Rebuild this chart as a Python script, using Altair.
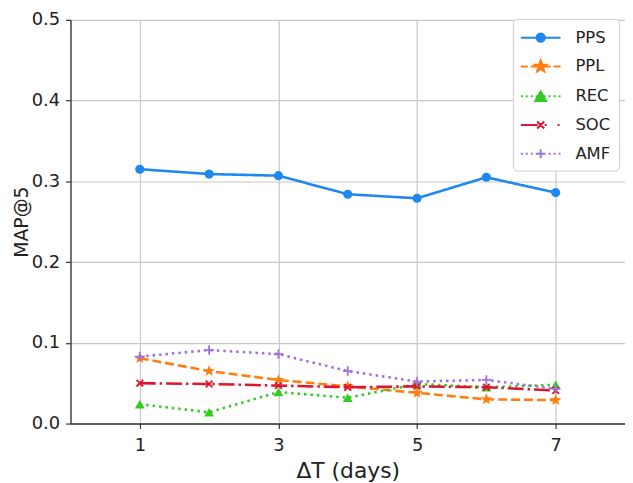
import math
import altair as alt
import pandas as pd

# ---------------- data ----------------
days = [1, 2, 3, 4, 5, 6, 7]
series_names = ["PPS", "PPL", "REC", "SOC", "AMF"]
pps = [0.315, 0.309, 0.307, 0.284, 0.279, 0.305, 0.286]
ppl = [0.081, 0.065, 0.054, 0.046, 0.038, 0.030, 0.029]
rec = [0.024, 0.014, 0.039, 0.032, 0.049, 0.045, 0.048]
soc = [0.050, 0.049, 0.047, 0.045, 0.046, 0.045, 0.041]
amf = [0.083, 0.091, 0.086, 0.065, 0.052, 0.054, 0.043]
x_ticks = [1, 3, 5, 7]
y_ticks = [0.0, 0.1, 0.2, 0.3, 0.4, 0.5]

# ---------------- styles ----------------
colors = ["#1e88f0", "#ff7f0e", "#33cc22", "#e0142f", "#9a72e0"]
dashes = [[1, 0], [9, 4], [2.5, 4], [16, 4, 2.5, 4], [2.5, 4]]
marker_filled = [True, True, True, False, False]
marker_sizes = [85, 150, 100, 70, 90]


def poly(pts):
    return "M" + "L".join(f"{x:.3f},{y:.3f}" for x, y in pts) + "Z"


def star_pts(r_out, r_in):
    pts = []
    for i in range(10):
        ang = -math.pi / 2 + i * math.pi / 5
        r = r_out if i % 2 == 0 else r_in
        pts.append((r * math.cos(ang), r * math.sin(ang)))
    return pts


def circle_pts(r, n=16):
    return [(r * math.cos(2 * math.pi * i / n), r * math.sin(2 * math.pi * i / n)) for i in range(n)]


def tri_pts(k):
    return [(0, -0.55 * k + 0.08), (0.55 * k, 0.4 * k + 0.08), (-0.55 * k, 0.4 * k + 0.08)]


def segs(pairs):
    return "".join(f"M{a:.2f},0H{b:.2f}" for a, b in pairs)


def solid(fn, ks):
    # concentric outlines, so that a stroked symbol reads as a filled one
    return "".join(poly(fn(k)) for k in ks)


star_path = poly(star_pts(1.0, 0.42))
x_path = "M-0.8,-0.8L0.8,0.8M-0.8,0.8L0.8,-0.8"
plus_path = "M-1,0H1M0,-1V1"
marker_shapes = ["circle", star_path, "triangle-up", x_path, plus_path]

dots = [(-2.0, -1.8), (-1.5, -1.3), (-1.0, -0.8), (-0.5, -0.3), (0.3, 0.5), (0.8, 1.0), (1.3, 1.5), (1.8, 2.0)]
legend_shapes = [
    segs([(-2, 2)]) + solid(lambda k: circle_pts(0.42 * k), [1, 0.7, 0.4, 0.1]),
    segs([(-2, -1.3), (-1.0, -0.3), (0.3, 1.0), (1.3, 2.0)]) + solid(lambda k: star_pts(0.62 * k, 0.26 * k), [1, 0.75, 0.5, 0.25]),
    segs(dots) + solid(tri_pts, [1, 0.7, 0.4, 0.12]),
    segs([(-2, -0.3), (0.4, 0.6), (1.7, 1.9)]) + "M-0.35,-0.35L0.35,0.35M-0.35,0.35L0.35,-0.35",
    segs(dots) + "M-0.45,0H0.45M0,-0.45V0.45",
]

rows = []
for name, vals in zip(series_names, [pps, ppl, rec, soc, amf]):
    for d, v in zip(days, vals):
        rows.append({"day": d, "series": name, "value": v})
df = pd.DataFrame(rows)

FONT = "DejaVu Sans"

x_enc = alt.X(
    "day:Q",
    scale=alt.Scale(domain=[0, 8], nice=False, zero=False),
    axis=alt.Axis(values=x_ticks, title="ΔT (days)", format="d", labelPadding=8, titlePadding=6, titleFontSize=22),
)
y_enc = alt.Y(
    "value:Q",
    scale=alt.Scale(domain=[0, 0.5], nice=False),
    axis=alt.Axis(values=y_ticks, title="MAP@5", format=".1f", labelPadding=6, titlePadding=0, titleFontSize=19),
)

legend = alt.Legend(
    title=None,
    orient="none",
    legendX=446,
    legendY=-1,
    fillColor="white",
    strokeColor="#cccccc",
    cornerRadius=4,
    padding=8,
    symbolSize=400,
    symbolStrokeWidth=2,
    symbolOpacity=1,
    symbolOffset=9,
    labelOffset=24,
    labelFontSize=16.5,
    labelFont=FONT,
    labelColor="#222222",
    rowPadding=9,
)

series_layers = []
for name, col, dash, shp, filled, size in zip(series_names, colors, dashes, marker_shapes, marker_filled, marker_sizes):
    base = alt.Chart(df).transform_filter(alt.datum.series == name)
    series_layers.append(
        base.mark_line(strokeWidth=2.6, color=col, strokeDash=dash).encode(x=x_enc, y=y_enc)
    )
    series_layers.append(
        base.mark_point(shape=shp, filled=filled, size=size, opacity=1, strokeWidth=1.8, color=col).encode(
            x=x_enc, y=y_enc
        )
    )

legend_layer = (
    alt.Chart(df)
    .mark_point(size=400, opacity=0, strokeWidth=2, filled=False)
    .encode(
        x=x_enc,
        y=y_enc,
        color=alt.Color("series:N", scale=alt.Scale(domain=series_names, range=colors), legend=legend),
        shape=alt.Shape("series:N", scale=alt.Scale(domain=series_names, range=legend_shapes), legend=legend),
    )
)

chart = (
    alt.layer(*series_layers, legend_layer)
    .properties(
        width=559,
        height=407,
        autosize=alt.AutoSizeParams(type="none"),
        padding={"left": 63, "top": 10, "right": 0, "bottom": 58},
    )
    .configure_view(stroke=None)
    .configure_axis(
        grid=True,
        gridColor="#c8c8c8",
        gridWidth=1.2,
        domainColor="#333333",
        domainWidth=1.4,
        tickColor="#333333",
        tickSize=5,
        tickWidth=1.2,
        labelFont=FONT,
        labelFontSize=18,
        labelColor="#222222",
        titleFont=FONT,
        titleFontSize=20,
        titleFontWeight="normal",
        titleColor="#222222",
    )
)

chart.save("out.html", embed_options={"renderer": "svg", "actions": False})
